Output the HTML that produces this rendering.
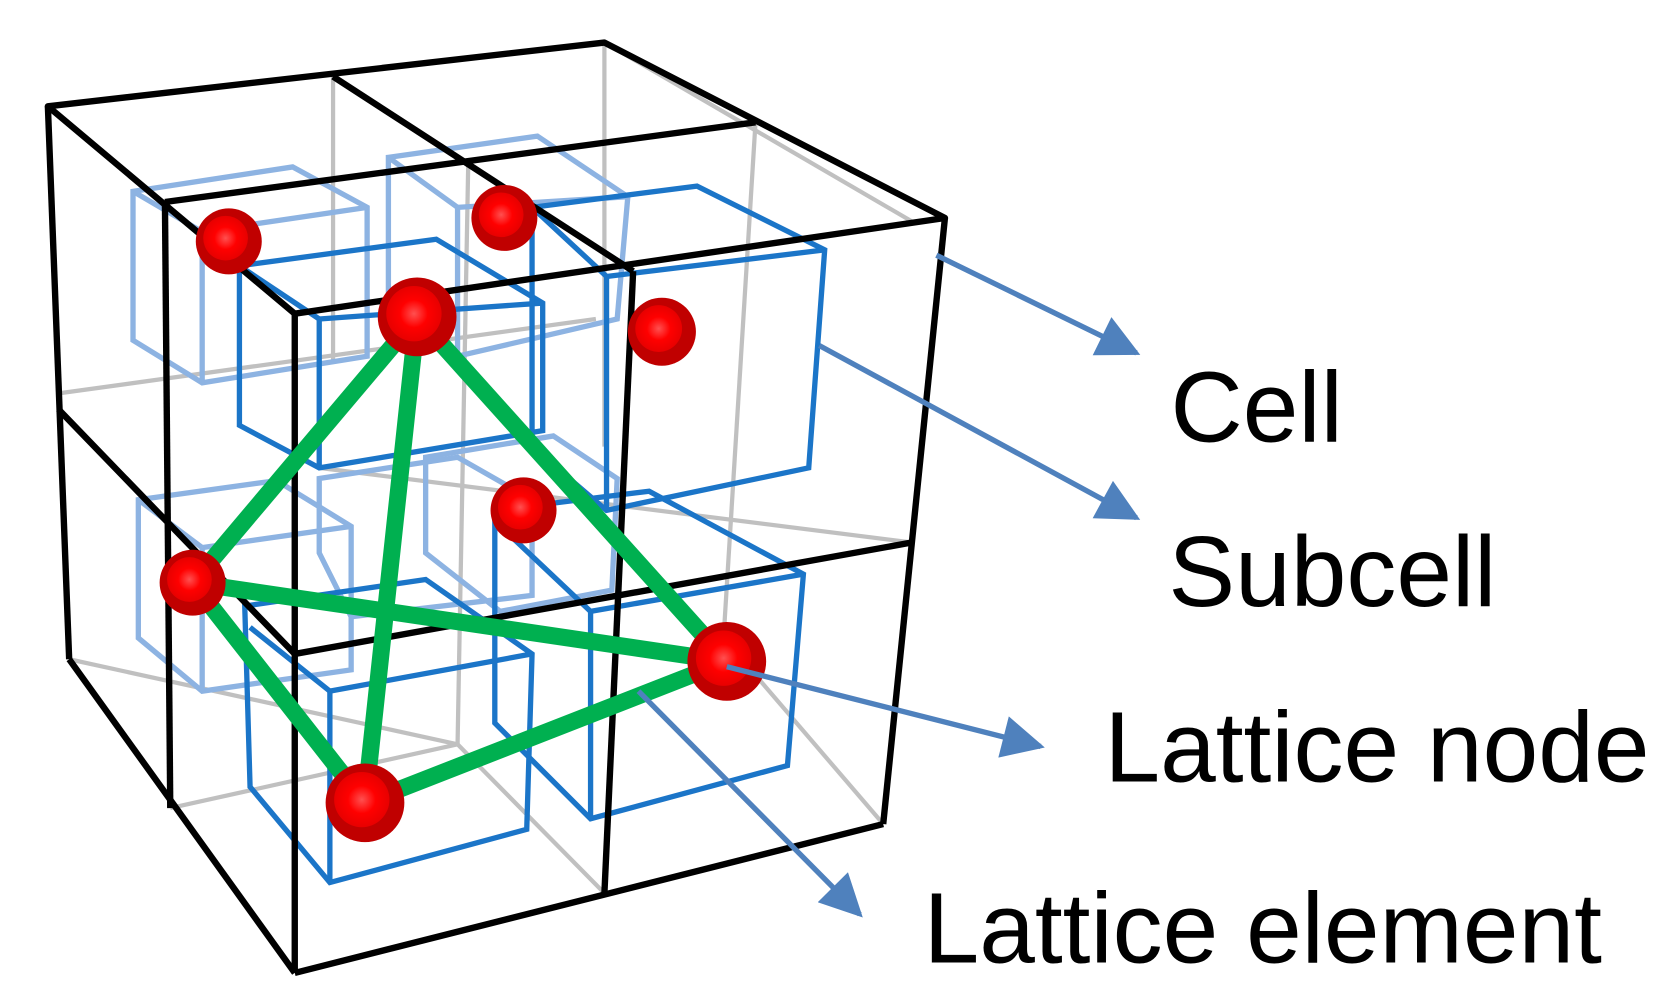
<!DOCTYPE html>
<html><head><meta charset="utf-8"><style>
html,body{margin:0;padding:0;background:#fff;}
svg{display:block;}
text{font-family:"Liberation Sans",Arial,sans-serif;fill:#000;}
</style></head><body>
<svg width="1660" height="1008" viewBox="0 0 1560 948" preserveAspectRatio="none" xmlns="http://www.w3.org/2000/svg">
<defs>
<marker id="ah" viewBox="0 0 10 10" refX="9" refY="5" markerWidth="9" markerHeight="8" orient="auto"><path d="M0,0 L10,5 L0,10 z" fill="#4f81bd"/></marker>
<radialGradient id="rg"><stop offset="0" stop-color="#ff5050"/><stop offset="0.5" stop-color="#ff0000"/><stop offset="1" stop-color="#e80000"/></radialGradient>
</defs>
<!-- grey hidden lines -->
<g stroke="#c0c0c0" stroke-width="4" fill="none">
<line x1="568" y1="40" x2="568" y2="420"/>
<line x1="313" y1="72" x2="313" y2="340"/>
<line x1="710" y1="115" x2="680" y2="600"/>
<line x1="440" y1="155" x2="430" y2="700"/>
<line x1="55" y1="370" x2="560" y2="300"/>
<line x1="300" y1="440" x2="855" y2="510"/>
<line x1="65" y1="620" x2="430" y2="700"/>
<line x1="160" y1="760" x2="430" y2="700"/>
<line x1="430" y1="700" x2="568" y2="840"/>
<line x1="680" y1="600" x2="830" y2="775"/>
<line x1="568" y1="40" x2="860" y2="210"/>
</g>
<!-- light blue back subcells -->
<g stroke="#8db3e2" stroke-width="5" fill="none">
<polygon points="125,180 275,157 345,195 345,335 190,360 125,320"/>
<line x1="125" y1="180" x2="190" y2="218"/><line x1="190" y1="218" x2="345" y2="195"/><line x1="190" y1="218" x2="190" y2="360"/>
<polygon points="365,148 505,128 590,185 580,300 430,335 365,290"/>
<line x1="365" y1="148" x2="430" y2="195"/><line x1="430" y1="195" x2="590" y2="185"/><line x1="430" y1="195" x2="430" y2="335"/>
<polygon points="130,470 260,452 330,495 330,630 190,650 130,600"/>
<line x1="130" y1="470" x2="190" y2="515"/><line x1="190" y1="515" x2="330" y2="495"/><line x1="190" y1="515" x2="190" y2="650"/>
<polygon points="300,450 430,430 500,470 500,560 330,580 300,520"/>
<polygon points="400,430 520,410 580,450 575,555 470,575 400,520"/>
</g>
<!-- blue front subcells -->
<g stroke="#1b75c8" stroke-width="5" fill="none">
<polygon points="225,250 410,225 510,285 510,405 300,440 225,400"/>
<line x1="225" y1="250" x2="300" y2="300"/><line x1="300" y1="300" x2="510" y2="285"/><line x1="300" y1="300" x2="300" y2="440"/>
<polygon points="500,195 655,175 775,235 760,440 570,480 500,420"/>
<line x1="500" y1="195" x2="570" y2="260"/><line x1="570" y1="260" x2="775" y2="235"/><line x1="570" y1="260" x2="570" y2="480"/>
<polygon points="230,570 400,545 500,615 495,780 310,830 235,740"/>
<line x1="235" y1="590" x2="310" y2="650"/><line x1="310" y1="650" x2="500" y2="615"/><line x1="310" y1="650" x2="310" y2="830"/>
<polygon points="465,480 610,462 755,540 740,720 555,770 465,680"/>
<line x1="465" y1="490" x2="555" y2="575"/><line x1="555" y1="575" x2="755" y2="540"/><line x1="555" y1="575" x2="555" y2="770"/>
</g>
<!-- black cell edges -->
<g stroke="#000" stroke-width="6" fill="none" stroke-linejoin="round">
<polygon points="45,100 568,40 888,205 277,295"/>
<line x1="45" y1="100" x2="65" y2="620"/>
<line x1="65" y1="620" x2="277" y2="915"/>
<line x1="277" y1="295" x2="277" y2="915"/>
<line x1="888" y1="205" x2="830" y2="775"/>
<line x1="277" y1="915" x2="830" y2="775"/>
<line x1="155" y1="190" x2="710" y2="115"/>
<line x1="313" y1="72" x2="595" y2="255"/>
<line x1="155" y1="190" x2="160" y2="760"/>
<line x1="595" y1="255" x2="568" y2="840"/>
<line x1="55" y1="385" x2="277" y2="615"/>
<line x1="277" y1="615" x2="858" y2="510"/>
</g>
<!-- green lattice -->
<g stroke="#00b050" stroke-width="16" stroke-linecap="round">
<line x1="392" y1="298" x2="181" y2="548"/>
<line x1="392" y1="298" x2="343" y2="755"/>
<line x1="392" y1="298" x2="683" y2="622"/>
<line x1="181" y1="548" x2="683" y2="622"/>
<line x1="181" y1="548" x2="343" y2="755"/>
<line x1="343" y1="755" x2="683" y2="622"/>
</g>
<!-- nodes -->
<g fill="#c00000">
<circle cx="215" cy="227" r="31"/>
<circle cx="474" cy="205" r="31"/>
<circle cx="622" cy="312" r="32"/>
<circle cx="492" cy="480" r="31"/>
<circle cx="392" cy="298" r="37"/>
<circle cx="181" cy="548" r="31"/>
<circle cx="343" cy="755" r="37"/>
<circle cx="683" cy="622" r="37"/>
</g>
<g fill="url(#rg)">
<circle cx="212" cy="224" r="21"/>
<circle cx="471" cy="202" r="21"/>
<circle cx="619" cy="309" r="22"/>
<circle cx="489" cy="477" r="21"/>
<circle cx="389" cy="295" r="26"/>
<circle cx="178" cy="545" r="21"/>
<circle cx="340" cy="752" r="26"/>
<circle cx="680" cy="619" r="26"/>
</g>
<!-- arrows -->
<g stroke="#4f81bd" stroke-width="5" marker-end="url(#ah)">
<line x1="880" y1="240" x2="1068" y2="332"/>
<line x1="770" y1="325" x2="1068" y2="487"/>
<line x1="683" y1="627" x2="978" y2="702"/>
<line x1="600" y1="650" x2="808" y2="860"/>
</g>
<text x="1100" y="415" font-size="94">Cell</text>
<text x="1098" y="570" font-size="94">Subcell</text>
<text x="1038" y="735" font-size="94">Lattice node</text>
<text x="868" y="905" font-size="94">Lattice element</text>
</svg>
</body></html>
